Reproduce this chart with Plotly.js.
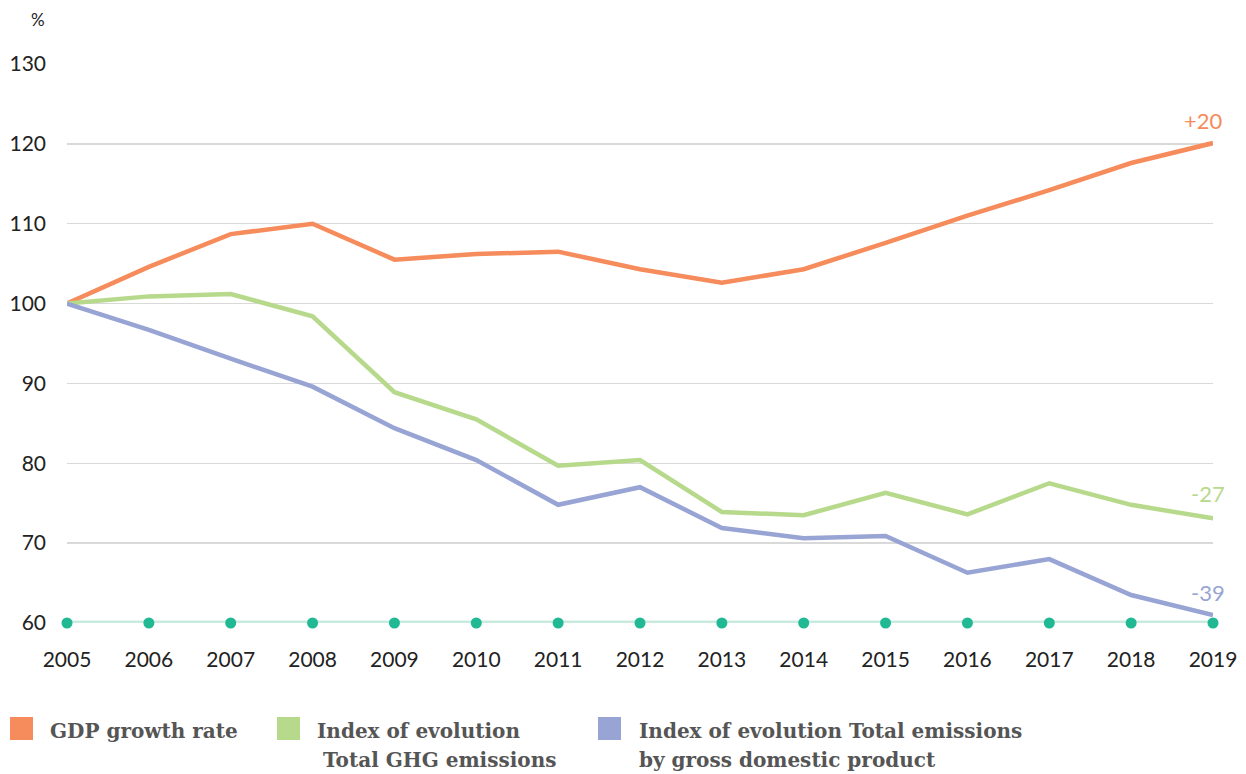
<!DOCTYPE html>
<html>
<head>
<meta charset="utf-8">
<script src="https://cdn.plot.ly/plotly-3.0.1.min.js"></script>
<style>
  html, body { margin: 0; padding: 0; background: #fff; }
  #chart { width: 1246px; height: 774px; }
</style>
</head>
<body>
<div id="chart"></div>
<script>
// ---- Data ----
const years = [2005, 2006, 2007, 2008, 2009, 2010, 2011, 2012, 2013, 2014, 2015, 2016, 2017, 2018, 2019];
const gdpGrowth = [100, 104.6, 108.7, 110.0, 105.5, 106.2, 106.5, 104.3, 102.6, 104.3, 107.6, 111.0, 114.2, 117.6, 120.1];
const ghgIndex = [100, 100.9, 101.2, 98.4, 88.9, 85.5, 79.7, 80.4, 73.9, 73.5, 76.3, 73.6, 77.5, 74.8, 73.1];
const emissionsPerGdp = [100, 96.7, 93.1, 89.6, 84.4, 80.4, 74.8, 77.0, 71.9, 70.6, 70.9, 66.3, 68.0, 63.5, 61.0];
const baseline = years.map(() => 60);
const endLabels = ["+20", "-27", "-39"];
const legendLabels = [["GDP growth rate"], ["Index of evolution", "Total GHG emissions"], ["Index of evolution Total emissions", "by gross domestic product"]];
const yTicks = [60, 70, 80, 90, 100, 110, 120, 130];

// ---- Styles ----
const colors = ["#f68b5b", "#b7d98b", "#97a4d4"];
const W = 1246, H = 774;
const L = 67, R = 33, T = 64, B = 151;
const pw = W - L - R, ph = H - T - B;
const px = x => (x - L) / pw;
const py = y => (H - B - y) / ph;

const series = [gdpGrowth, ghgIndex, emissionsPerGdp];
const traces = [
  {
    x: years, y: baseline, mode: 'lines+markers', cliponaxis: false,
    line: { color: '#c9eadf', width: 5 },
    marker: { color: '#21b894', size: 11 },
    hoverinfo: 'skip'
  }
];
series.forEach((s, i) => traces.push({
  x: years, y: s, mode: 'lines', cliponaxis: false,
  line: { color: colors[i], width: 4.5 },
  hoverinfo: 'skip'
}));

const annotations = [
  { xref: 'paper', yref: 'paper', x: px(47), y: py(20), xanchor: 'right', yanchor: 'middle',
    text: '%', showarrow: false, font: { family: 'Lato', size: 17, color: '#222' } }
];
const shifts = [[12, 7], [14, 9], [14, 7]];
series.forEach((s, i) => annotations.push({
  xref: 'x', yref: 'y', x: years[years.length - 1], y: s[s.length - 1],
  xanchor: 'right', yanchor: 'bottom', xshift: shifts[i][0], yshift: shifts[i][1],
  text: endLabels[i], showarrow: false,
  font: { family: 'Lato', size: 22, color: colors[i] }
}));

const legendSquares = [10, 277, 598];
const legendText = [[48, 48], [315, 321], [637, 637]];
const shapes = [];
legendSquares.forEach((sx, i) => {
  shapes.push({ type: 'rect', xref: 'paper', yref: 'paper',
    x0: px(sx), x1: px(sx + 23), y0: py(740), y1: py(717),
    fillcolor: colors[i], line: { width: 0 } });
  legendLabels[i].forEach((t, j) => annotations.push({
    xref: 'paper', yref: 'paper', x: px(legendText[i][j]), y: py(731 + j * 29),
    xanchor: 'left', yanchor: 'middle', text: t, showarrow: false,
    font: { family: 'DejaVu Serif', size: 20, color: '#555', weight: 'bold' }
  }));
});

const layout = {
  width: W, height: H,
  margin: { l: L, r: R, t: T, b: B, pad: 0 },
  paper_bgcolor: '#fff', plot_bgcolor: '#fff',
  showlegend: false,
  xaxis: {
    range: [2005, 2019], tickvals: years, ticktext: years.map(String),
    showgrid: false, zeroline: false, showline: false, ticks: '',
    ticklabelstandoff: 22,
    tickfont: { family: 'Lato', size: 21, color: '#222' }
  },
  yaxis: {
    range: [60, 130], tickvals: yTicks, ticktext: yTicks.map(String),
    showgrid: true, gridcolor: '#d9d9d9', gridwidth: 1.5,
    zeroline: false, showline: false, ticks: '',
    ticklabelstandoff: 20,
    tickfont: { family: 'Lato', size: 21, color: '#222' }
  },
  annotations: annotations,
  shapes: shapes
};

Plotly.newPlot('chart', traces, layout, { displayModeBar: false, staticPlot: true });
</script>
</body>
</html>
